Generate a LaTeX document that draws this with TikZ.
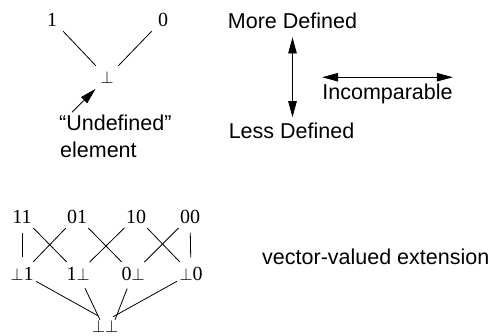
\documentclass[tikz,border=0pt]{standalone}
\usepackage{fontspec}
\setmainfont{Liberation Serif}
\setsansfont{Liberation Sans}
\usetikzlibrary{arrows.meta, positioning}

\newcommand{\pbot}{\resizebox{13pt}{12pt}{$\perp$}}

\begin{document}
\begin{tikzpicture}[x=1pt, y=-1pt, >={Triangle[length=16pt, width=8.5pt]},
  elem/.style={circle, inner sep=0pt, minimum size=32pt, font=\fontsize{20}{24}\selectfont},
  lbl/.style={inner sep=0pt, font=\sffamily\fontsize{21.5}{26}\selectfont},
  trait/.style={line width=0.8pt}]

  \useasboundingbox (0,0) rectangle (497,335);

  % === TREILLIS A DEUX VALEURS ===
  \node[elem] (one)  at (52,19.5) {1};
  \node[elem] (zero) at (163,19.5) {0};
  \node[elem] (bot)  at (107,77.5) {\pbot};
  \draw[trait] (one) -- (bot);
  \draw[trait] (zero) -- (bot);

  % element indefini
  \node[lbl, anchor=base west] (undef) at (59,130) {“Undefined”};
  \node[lbl, anchor=base west] (elmt)  at (60,157) {element};
  \draw[trait, ->] ([xshift=13pt, yshift=2pt]undef.north west) -- (bot);

  % === LEGENDE ===
  \node[lbl, anchor=base] (more)   at (292.5,28) {More Defined};
  \node[lbl, anchor=base] (less)   at (291.5,138) {Less Defined};
  \node[lbl, anchor=base] (incomp) at (387.5,99) {Incomparable};
  \draw[trait, <->, shorten <=9pt, shorten >=5pt] (more.south) -- (more.south |- less.north);
  \draw[trait, <->] ([yshift=6pt]incomp.north west) -- ([yshift=6pt]incomp.north east);

  % === EXTENSION VECTORIELLE ===
  \node[elem] (v11) at (22,216.5) {11};
  \node[elem] (v01) at (77,216.5) {01};
  \node[elem] (v10) at (136,216.5) {10};
  \node[elem] (v00) at (190,216.5) {00};

  \node[elem] (b1) at (22,273.5) {\pbot1};
  \node[elem] (o1) at (78,273.5) {1\pbot};
  \node[elem] (z0) at (133,273.5) {0\pbot};
  \node[elem] (b0) at (191,273.5) {\pbot0};

  \node[inner sep=0pt] (bb) at (105,326) {\pbot\pbot};

  \draw[trait] (v11) -- (b1);
  \draw[trait] (v11) -- (o1);
  \draw[trait] (v01) -- (b1);
  \draw[trait] (v01) -- (z0);
  \draw[trait] (v10) -- (o1);
  \draw[trait] (v10) -- (b0);
  \draw[trait] (v00) -- (z0);
  \draw[trait] (v00) -- (b0);

  \draw[trait] (b1) -- ([xshift=-7pt, yshift=4pt]bb.north);
  \draw[trait] (o1) -- ([xshift=-5pt]bb.north);
  \draw[trait] (z0) -- ([xshift=10pt]bb.north);
  \draw[trait] (b0) -- ([xshift=8pt, yshift=3pt]bb.north);

  \node[lbl, anchor=base west] (vect) at (262,264) {vector-valued extension};

\end{tikzpicture}
\end{document}
